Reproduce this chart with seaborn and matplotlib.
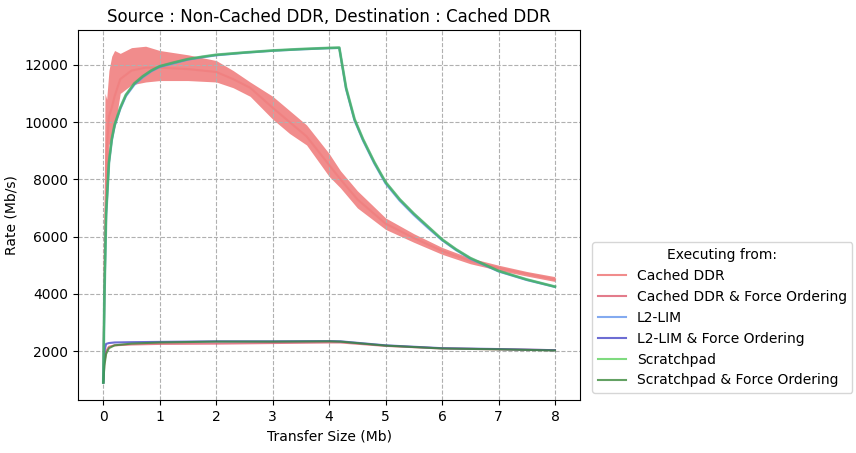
import matplotlib
matplotlib.use("Agg")
import matplotlib.pyplot as plt
import seaborn as sns
import numpy as np

sns.reset_orig()
plt.rcParams['font.family'] = ['DejaVu Sans']

x_fast = [0, 0.02, 0.05, 0.1, 0.15, 0.2, 0.3, 0.4, 0.55, 0.7, 0.85, 1.0, 1.25, 1.5, 1.75, 2.0, 2.5, 3.0, 3.5, 4.0, 4.18,
          4.3, 4.45, 4.6, 4.8, 5.0, 5.25, 5.5, 5.75, 6.0, 6.25, 6.5, 7.0, 7.5, 8.0]
fast = [900, 4000, 6800, 8600, 9400, 9900, 10500, 10950, 11350, 11600, 11800, 11950, 12080, 12200, 12280, 12350, 12430, 12500, 12550, 12590, 12600,
        11200, 10100, 9400, 8600, 7900, 7300, 6800, 6350, 5900, 5550, 5250, 4800, 4500, 4250]
fast_l2 = [900, 3900, 6700, 8550, 9350, 9850, 10450, 10900, 11300, 11560, 11770, 11920, 12050, 12180, 12260, 12330, 12420, 12490, 12540, 12580, 12590,
           11150, 10050, 9350, 8550, 7850, 7250, 6750, 6300, 5870, 5520, 5220, 4780, 4480, 4240]

x_ddr = [0, 0.03, 0.06, 0.1, 0.15, 0.2, 0.3, 0.5, 0.75, 1.0, 1.5, 2.0, 2.3, 2.6, 3.0, 3.3, 3.6, 4.0, 4.2, 4.5, 5.0, 5.5, 6.0, 6.5, 7.0, 7.5, 8.0]
ddr = [1000, 6000, 9000, 10200, 10500, 10900, 11500, 11800, 11900, 11900, 11850, 11750, 11500, 11200, 10500, 10000, 9500, 8500, 8000, 7300, 6450, 5950, 5500, 5150, 4900, 4700, 4500]
ddr_hi = [2500, 11000, 10800, 11800, 12300, 12500, 12400, 12600, 12650, 12500, 12350, 12150, 11800, 11400, 10900, 10400, 9900, 8900, 8300, 7600, 6650, 6100, 5620, 5250, 5000, 4780, 4600]
ddr_lo = [900, 5000, 7500, 9200, 9500, 9800, 11000, 11300, 11400, 11450, 11450, 11400, 11200, 10900, 10100, 9600, 9200, 8100, 7700, 7000, 6250, 5800, 5380, 5050, 4820, 4620, 4430]

x_slow = [0, 0.02, 0.05, 0.1, 0.2, 0.5, 1.0, 2.0, 3.0, 4.0, 4.2, 5.0, 6.0, 7.0, 8.0]
slow_ddr = [900, 1600, 2000, 2150, 2200, 2230, 2250, 2260, 2280, 2300, 2300, 2180, 2090, 2060, 2030]
slow_l2 = [900, 2000, 2250, 2280, 2300, 2310, 2320, 2340, 2340, 2350, 2340, 2200, 2100, 2070, 2030]
slow_sp = [900, 1500, 1900, 2100, 2200, 2260, 2300, 2330, 2330, 2340, 2330, 2190, 2090, 2060, 2020]

labels = ["Cached DDR", "Cached DDR & Force Ordering", "L2-LIM", "L2-LIM & Force Ordering",
          "Scratchpad", "Scratchpad & Force Ordering"]
colors = ["#f08080", "#dc5a6e", "#6495ed", "#4848c8", "#5fd35f", "#3c8a3c"]

fig = plt.figure(figsize=(8.56, 4.53), dpi=100)
ax = fig.add_axes([0.091, 0.117, 0.587, 0.817])
ax.fill_between(x_ddr, ddr_lo, ddr_hi, color=colors[0], alpha=0.9, lw=0)
sns.lineplot(x=x_ddr, y=ddr, ax=ax, color=colors[0], alpha=0.9, label=labels[0])
sns.lineplot(x=x_slow, y=slow_ddr, ax=ax, color=colors[1], alpha=0.8, label=labels[1])
sns.lineplot(x=x_fast, y=fast_l2, ax=ax, color=colors[2], alpha=0.8, label=labels[2])
sns.lineplot(x=x_slow, y=slow_l2, ax=ax, color=colors[3], alpha=0.8, label=labels[3])
sns.lineplot(x=x_fast, y=fast, ax=ax, color=colors[4], alpha=0.8, label=labels[4])
sns.lineplot(x=x_slow, y=slow_sp, ax=ax, color=colors[5], alpha=0.8, label=labels[5])
ax.plot(x_fast, fast, color="#3aa070", alpha=0.6, lw=2)

ax.set_xlim(-0.45, 8.45)
ax.set_ylim(290, 13220)
ax.set_xticks(range(9))
ax.set_yticks([2000, 4000, 6000, 8000, 10000, 12000])
ax.grid(True, linestyle="--", color="#b0b0b0")
ax.set_xlabel("Transfer Size (Mb)")
ax.set_ylabel("Rate (Mb/s)")
ax.set_title("Source : Non-Cached DDR, Destination : Cached DDR")
ax.legend(title="Executing from:", loc="lower left", bbox_to_anchor=(1.01, 0.0))
fig.savefig("out.png", dpi=100)
